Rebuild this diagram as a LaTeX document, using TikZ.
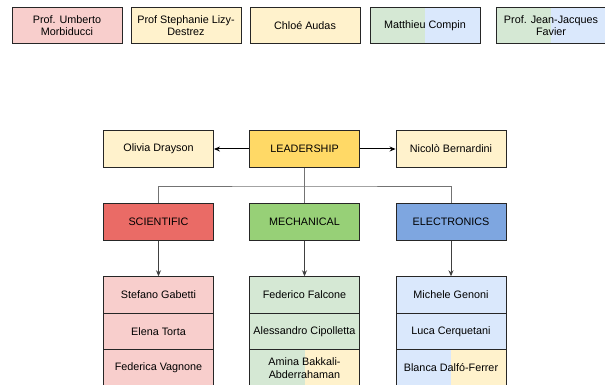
\documentclass[tikz,border=0pt]{standalone}
\usepackage{fontspec}
\setmainfont{Liberation Sans}
\usetikzlibrary{arrows.meta}
\newcommand*{\boxw}{110pt}
\newcommand*{\boxh}{36.5pt}
\definecolor{lred}{HTML}{F8CECC}
\definecolor{lyellow}{HTML}{FFF2CC}
\definecolor{lgreen}{HTML}{D5E8D4}
\definecolor{lblue}{HTML}{DAE8FC}
\definecolor{dred}{HTML}{EA6B66}
\definecolor{dgreen}{HTML}{97D077}
\definecolor{dblue}{HTML}{7EA6E0}
\definecolor{dyellow}{HTML}{FFD966}
\tikzset{
    member/.style = {draw=black!85, line width=0.9pt, minimum width=\boxw, minimum height=\boxh,
                     inner sep=1pt, align=center, font=\fontsize{10.8}{12.5}\selectfont},
    halves/.style 2 args = {path picture={
        \fill [#1] (path picture bounding box.south west) rectangle (path picture bounding box.north);
        \fill [#2] (path picture bounding box.south) rectangle (path picture bounding box.north east);}},
    tree/.style = {draw=black!55, line width=1pt},
    down/.style = {draw=black!75, line width=1pt, -{Stealth[length=6pt,width=5pt]}},
    side/.style = {draw=black, line width=1pt, -{Stealth[length=6pt,width=5pt]}},
}

\begin{document}
\begin{tikzpicture}[x=1pt, y=-1pt]
    \useasboundingbox [fill=white] (0,0) rectangle (605,385);
    % guests
    \node [member, fill=lred]            (umberto)   at ( 67,25.5) {Prof. Umberto\\Morbiducci};
    \node [member, fill=lyellow]         (stephanie) at (186,25.5) {Prof Stephanie Lizy-\\Destrez};
    \node [member, fill=lyellow]         (chloe)     at (305,25.5) {Chloé Audas};
    \node [member, halves={lgreen}{lblue}] (matthieu) at (425,25.5) {Matthieu Compin};
    \node [member, halves={lgreen}{lblue}] (favier)   at (551,25.5) {Prof. Jean-Jacques\\Favier};
    % leadership
    \node [member, fill=lyellow] (olivia) at (158.5,149) {Olivia Drayson};
    \node [member, fill=dyellow] (lead)   at (304.5,149) {LEADERSHIP};
    \node [member, fill=lyellow] (nicolo) at (451,149)   {Nicolò Bernardini};
    \draw [side] (lead.west) -- (olivia.east);
    \draw [side] (lead.east) -- (nicolo.east -| nicolo.west);
    % teams
    \node [member, fill=dred]   (sci)  at (158.5,222) {SCIENTIFIC};
    \node [member, fill=dgreen] (mech) at (304.5,222) {MECHANICAL};
    \node [member, fill=dblue]  (elec) at (451,222)   {ELECTRONICS};
    \coordinate (fork) at (304.5,186);
    \draw [tree] (lead) -- (mech);
    \draw [tree] (sci.north) |- (fork) -| (elec.north);
    % members
    \node [member, fill=lred] (stefano)  at (158.5,295)   {Stefano Gabetti};
    \node [member, fill=lred] (elena)    at (158.5,331.5) {Elena Torta};
    \node [member, fill=lred] (federica) at (158.5,368)   {Federica Vagnone};
    \node [member, fill=lgreen] (falcone)   at (304.5,295)   {Federico Falcone};
    \node [member, fill=lgreen] (cipolletta) at (304.5,331.5) {Alessandro Cipolletta};
    \node [member, halves={lgreen}{lyellow}] (amina) at (304.5,368) {Amina Bakkali-\\Abderrahaman};
    \node [member, fill=lblue] (genoni)    at (451,295)   {Michele Genoni};
    \node [member, fill=lblue] (cerquetani) at (451,331.5) {Luca Cerquetani};
    \node [member, halves={lblue}{lyellow}] (blanca) at (451,368) {Blanca Dalfó-Ferrer};
    \draw [down] (sci)  -- (stefano);
    \draw [down] (mech) -- (falcone);
    \draw [down] (elec) -- (genoni);
\end{tikzpicture}
\end{document}
